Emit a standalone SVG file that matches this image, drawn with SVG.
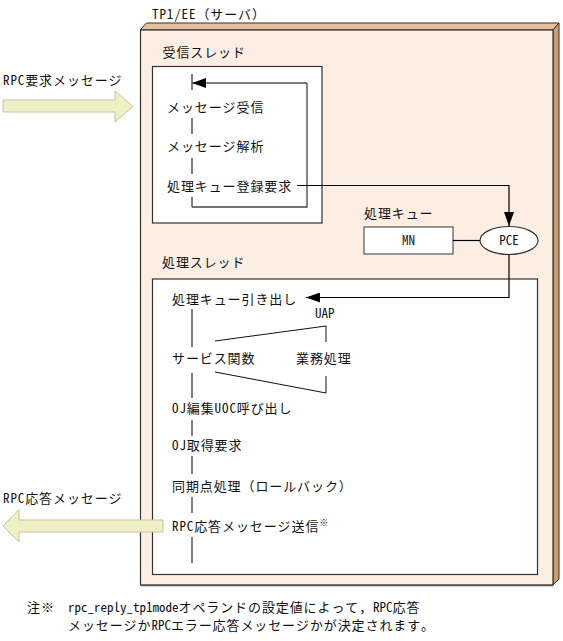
<svg xmlns="http://www.w3.org/2000/svg" width="563" height="641" viewBox="0 0 563 641">
<defs>
<style>
text{font-family:"Noto Sans Mono CJK JP","Noto Sans CJK JP",sans-serif;font-size:13px;fill:#111;letter-spacing:0.9px}
.c{text-anchor:middle;letter-spacing:0}
.la{letter-spacing:0}
.ln{stroke:#000;stroke-width:1.2;fill:none}
.tk{stroke:#555;stroke-width:1.5;fill:none}
.box{fill:#fff;stroke:#333;stroke-width:1.2}
.big{fill:#eff0c6;stroke:#c4c4a0;stroke-width:1}
</style>
<marker id="ah" viewBox="0 0 14 10" refX="14" refY="5" markerWidth="14" markerHeight="10" markerUnits="userSpaceOnUse" orient="auto">
<path d="M0,0 L14,5 L0,10 Z" fill="#000"/>
</marker>
</defs>

<text x="152" y="19">TP1/EE（サーバ）</text>

<g id="server">
<path d="M140,30 L146.5,23 L559,23 L553,30 Z" fill="#e6bf9c" stroke="#333" stroke-width="1"/>
<path d="M553,30 L559,23 L559,579 L553,585 Z" fill="#cf9d6d" stroke="#333" stroke-width="1"/>
<rect x="140.5" y="30" width="412.5" height="555" fill="#fdeee3" stroke="#333" stroke-width="1.2"/>
<line x1="141" y1="585.5" x2="553" y2="585.5" stroke="#555" stroke-width="1.5"/>
</g>

<g id="recv-thread">
<text x="162.5" y="57">受信スレッド</text>
<rect class="box" x="152.5" y="66.5" width="169.5" height="156.5"/>
<path d="M192,207 L307,207 L307,83" fill="none" stroke="#444" stroke-width="1.3"/>
<line x1="307" y1="83" x2="192" y2="83" class="ln" marker-end="url(#ah)"/>
<line class="tk" x1="192" y1="74" x2="192" y2="90"/>
<line class="tk" x1="192" y1="118" x2="192" y2="134"/>
<line class="tk" x1="192" y1="158" x2="192" y2="174"/>
<line class="tk" x1="192" y1="197" x2="192" y2="207"/>
<text x="167" y="112">メッセージ受信</text>
<text x="167" y="151">メッセージ解析</text>
<text x="167" y="191">処理キュー登録要求</text>
</g>

<g id="queue">
<text x="364" y="218">処理キュー</text>
<rect x="364" y="227" width="89" height="27" fill="#fff" stroke="#555" stroke-width="1.2"/>
<text class="c" x="408.5" y="245">MN</text>
</g>

<g id="pce">
<ellipse cx="509" cy="240.5" rx="29" ry="14" fill="#fff" stroke="#333" stroke-width="1.2"/>
<text class="c" x="509" y="245">PCE</text>
</g>

<g id="proc-thread">
<text x="162" y="267">処理スレッド</text>
<rect class="box" x="152.5" y="279" width="385" height="295.5"/>
<line class="tk" x1="192" y1="309" x2="192" y2="347"/>
<line class="tk" x1="192" y1="373" x2="192" y2="398"/>
<line class="tk" x1="192" y1="420" x2="192" y2="436"/>
<line class="tk" x1="192" y1="456" x2="192" y2="474"/>
<line class="tk" x1="192" y1="497" x2="192" y2="513"/>
<line class="tk" x1="192" y1="537" x2="192" y2="563"/>
<text x="172" y="304">処理キュー引き出し</text>
<text x="315" y="318" class="la">UAP</text>
<text x="172" y="363">サービス関数</text>
<text x="296" y="363">業務処理</text>
<text x="172" y="413">OJ編集UOC呼び出し</text>
<text x="172" y="450">OJ取得要求</text>
<text x="172" y="491">同期点処理（ロールバック）</text>
<text x="172" y="531">RPC応答メッセージ送信<tspan font-size="9" dy="-5">※</tspan></text>
</g>

<g id="uap">
<path d="M215,341 L326,326 L326,342" fill="none" stroke="#111" stroke-width="1"/>
<path d="M215,372 L326,393 L326,376" fill="none" stroke="#111" stroke-width="1"/>
</g>

<g id="connectors">
<path class="ln" d="M297,185.5 L509,185.5 L509,226" marker-end="url(#ah)"/>
<line class="ln" x1="453" y1="240.5" x2="480" y2="240.5"/>
<path class="ln" d="M509,254.5 L509,297.5 L306,297.5" marker-end="url(#ah)"/>
</g>

<g id="rpc-in">
<text x="3" y="85">RPC要求メッセージ</text>
<path class="big" d="M3,100 L115,100 L115,91 L133,106.5 L115,122 L115,112 L3,112 Z"/>
</g>

<g id="rpc-out">
<text x="3" y="503">RPC応答メッセージ</text>
<path class="big" d="M163,520 L19,520 L19,509.5 L3,526 L19,542 L19,532 L163,532 Z"/>
</g>

<g id="note">
<text x="27" y="612">注※</text>
<text x="68" y="612"><tspan class="la">rpc_reply_tp1mode</tspan>オペランドの設定値によって，<tspan class="la">RPC</tspan>応答</text>
<text x="68" y="630">メッセージか<tspan class="la">RPC</tspan>エラー応答メッセージかが決定されます。</text>
</g>
</svg>
